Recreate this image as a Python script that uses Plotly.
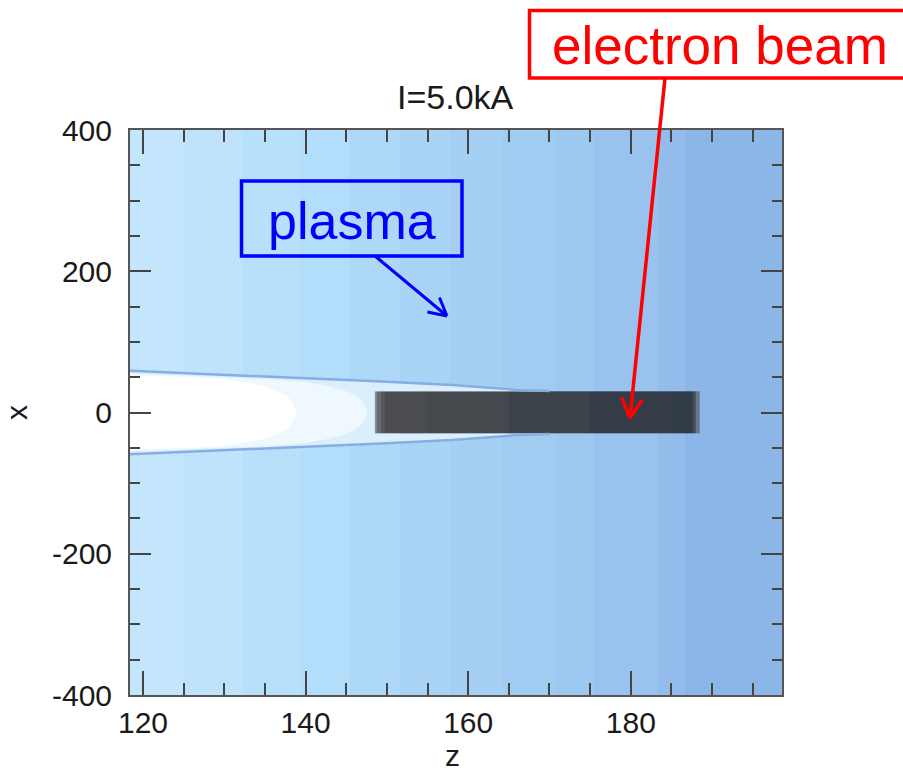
import math
import plotly.graph_objects as go

# ---------------- data ----------------
title_text = "I=5.0kA"
z_range = [118.4, 198.6]
x_range = [-400, 400]

z_tickvals = [120, 140, 160, 180]
z_ticktext = ["120", "140", "160", "180"]
x_tickvals = [-400, -200, 0, 200, 400]
x_ticktext = ["-400", "-200", "0", "200", "400"]

# plasma background: vertical colour bands (edges in z)
band_edges_z = [118.4, 124.9, 132.3, 139.3, 145.5, 151.6, 157.8, 164.3, 170.7, 175.3, 183.3, 186.7, 198.6]
band_colors = ["#c4e6fc", "#bee3fb", "#b7e0fb", "#b2ddfb", "#add8f8", "#a9d4f6",
               "#a5d0f4", "#a1ccf2", "#9dc8f0", "#99c3ee", "#93bceb", "#8db6e8"]

# plasma channel (half-width vs z)
channel_z = [118.4, 130, 140, 150, 158, 162, 166, 170]
channel_hw = [59, 53.5, 48.5, 43.5, 39, 35.5, 32, 30.5]
channel_fill = "#dbeefc"
channel_line = "#86aee3"

light_z = [118.4, 130, 138, 142, 145, 146.8, 147.6]
light_hw = [55, 50, 45, 39, 30, 18, 0]
light_fill = "#eef8fe"

core_z = [118.4, 126, 130, 133, 136, 138, 138.9]
core_hw = [52, 50, 47, 42, 33, 20, 0]
core_fill = "#ffffff"

# electron beam
beam_edges_z = [148.5, 148.8, 149.2, 149.7, 155, 165, 175, 185, 187.6, 188.0, 188.5]
beam_colors = ["#8a8e92", "#696c70", "#56595c", "#4a4c4f", "#45484c",
               "#3d434a", "#353e48", "#313b46", "#434f5c", "#687686"]
beam_hw = 30

plasma_label = "plasma"
beam_label = "electron beam"

# ---------------- figure ----------------
L, R, T, B = 130, 782, 130, 695
W, H = 903, 775


def px(xp):
    return (xp - L) / (R - L)


def py(yp):
    return (B - yp) / (B - T)


fig = go.Figure()

nb = len(band_colors)
fig.add_trace(go.Heatmap(
    x=band_edges_z, y=x_range, z=[list(range(nb))],
    colorscale=[[i / (nb - 1), c] for i, c in enumerate(band_colors)],
    zmin=0, zmax=nb - 1, showscale=False, hoverinfo="skip"))

nbm = len(beam_colors)
fig.add_trace(go.Heatmap(
    x=beam_edges_z, y=[-beam_hw, beam_hw], z=[list(range(nbm))],
    colorscale=[[i / (nbm - 1), c] for i, c in enumerate(beam_colors)],
    zmin=0, zmax=nbm - 1, showscale=False, hoverinfo="skip"))

# channel fill (the beam rectangle is left out)
cx = channel_z[:-1] + [channel_z[-1], beam_edges_z[0], beam_edges_z[0], channel_z[-1]] + channel_z[::-1][1:]
cy = channel_hw[:-1] + [beam_hw, beam_hw, -beam_hw, -beam_hw] + [-h for h in channel_hw[::-1][1:]]
fig.add_trace(go.Scatter(x=cx, y=cy, fill="toself", fillcolor=channel_fill,
                         mode="lines", line=dict(width=0), hoverinfo="skip"))


def lens(zs, hs, color):
    xs = zs + zs[::-1]
    ys = hs + [-h for h in hs[::-1]]
    fig.add_trace(go.Scatter(x=xs, y=ys, fill="toself", fillcolor=color,
                             mode="lines", line=dict(width=0, shape="spline"), hoverinfo="skip"))


lens(light_z, light_hw, light_fill)
lens(core_z, core_hw, core_fill)

for s in (1, -1):
    fig.add_trace(go.Scatter(x=channel_z, y=[s * h for h in channel_hw], mode="lines",
                             line=dict(color=channel_line, width=2.5), hoverinfo="skip"))

shapes = []
annotations = []

shapes.append(dict(type="rect", xref="paper", yref="paper",
                   x0=px(241.5), x1=px(462), y0=py(181), y1=py(256),
                   line=dict(color="#0000ff", width=3.5)))
annotations.append(dict(text=plasma_label, xref="paper", yref="paper", x=px(352), y=py(221),
                        showarrow=False, font=dict(family="Liberation Sans", size=52, color="#0000ff"),
                        xanchor="center", yanchor="middle"))

shapes.append(dict(type="rect", xref="paper", yref="paper",
                   x0=px(529.5), x1=px(905), y0=py(10.5), y1=py(78),
                   line=dict(color="#ff0000", width=3.5)))
annotations.append(dict(text=beam_label, xref="paper", yref="paper", x=px(720), y=py(46),
                        showarrow=False, font=dict(family="Liberation Sans", size=53, color="#ff0000"),
                        xanchor="center", yanchor="middle"))


def arrow(x0, y0, x1, y1, color, width, head):
    dx, dy = x1 - x0, y1 - y0
    n = math.hypot(dx, dy)
    ux, uy = dx / n, dy / n
    path = f"M {px(x0)},{py(y0)} L {px(x1)},{py(y1)}"
    for a in (math.radians(28), -math.radians(28)):
        bx = -(ux * math.cos(a) - uy * math.sin(a)) * head
        by = -(ux * math.sin(a) + uy * math.cos(a)) * head
        path += f" M {px(x1)},{py(y1)} L {px(x1 + bx)},{py(y1 + by)}"
    shapes.append(dict(type="path", xref="paper", yref="paper", path=path,
                       line=dict(color=color, width=width)))


arrow(375, 256, 447, 316, "#0000ff", 3, 20)
arrow(665, 78, 630, 418, "#ff0000", 3.5, 22)

annotations.append(dict(text=title_text, xref="paper", yref="paper", x=px(455), y=py(97),
                        showarrow=False, font=dict(family="Liberation Sans", size=34, color="#1a1a1a"),
                        xanchor="center", yanchor="middle"))

# axis title for z placed as text below the tick labels
annotations.append(dict(text="z", xref="paper", yref="paper", x=px(452), y=py(774),
                        showarrow=False, font=dict(family="Liberation Sans", size=30, color="#1a1a1a"),
                        xanchor="center", yanchor="bottom"))

axis_common = dict(showgrid=False, zeroline=False, showline=True, linecolor="#555555",
                   linewidth=2, mirror="allticks", ticks="inside", tickcolor="#444444",
                   tickwidth=2, automargin=False, tickmode="array",
                   tickfont=dict(family="Liberation Sans", size=30, color="#1a1a1a"))

fig.update_layout(
    width=W, height=H, margin=dict(l=L, r=W - R, t=T, b=H - B, autoexpand=False),
    paper_bgcolor="white", plot_bgcolor="white", showlegend=False,
    shapes=shapes, annotations=annotations,
    xaxis=dict(range=z_range, tickvals=z_tickvals, ticktext=z_ticktext, ticklen=24,
               minor=dict(dtick=5, tick0=120, ticklen=12, ticks="inside", tickcolor="#444444", tickwidth=2),
               ticklabelstandoff=0, **axis_common),
    yaxis=dict(range=x_range, tickvals=x_tickvals, ticktext=x_ticktext, ticklen=21,
               minor=dict(dtick=50, tick0=-400, ticklen=10, ticks="inside", tickcolor="#444444", tickwidth=2),
               title=dict(text="x", font=dict(family="Liberation Sans", size=30, color="#1a1a1a"), standoff=22),
               ticklabelstandoff=10, **axis_common),
)

fig.write_html("out.html")
